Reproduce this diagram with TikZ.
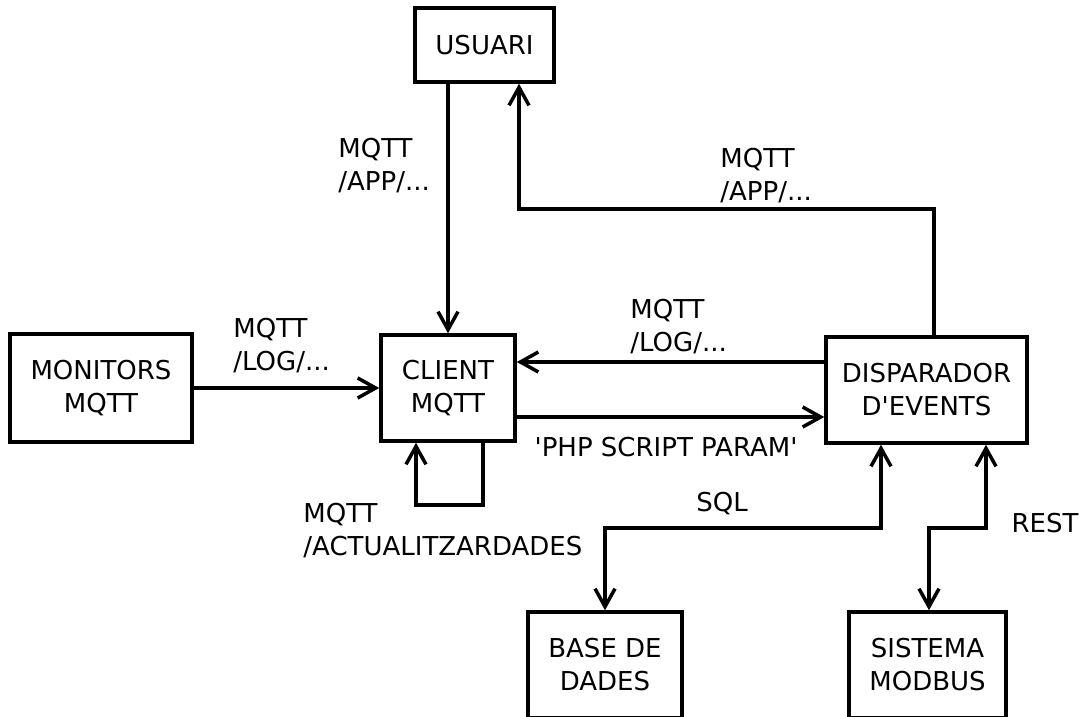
\documentclass[tikz,border=0pt]{standalone}
\usepackage{fontspec}
\setmainfont{DejaVu Sans}
\usetikzlibrary{arrows.meta}

\begin{document}
\begin{tikzpicture}[x=0.5pt,y=-0.5pt]
			\tikzstyle{box}=[draw, line width=1.75pt, inner sep=0pt, align=center]
			\tikzstyle{tag}=[inner sep=0pt, align=left, anchor=north west]
			\tikzset{edge/.style = {->, line width=1.75pt, > = {Straight Barb[length=9pt,width=10pt]}}}
			\tikzset{every node/.style={font=\fontsize{13}{16.5}\selectfont}}
			
			\useasboundingbox (0,0) rectangle (1082,717);
			
			\node[box, minimum width=69.5pt, minimum height=37pt](usuari) at (484.5,45) {USUARI};
			\node[box, minimum width=91pt, minimum height=54pt](monitors) at (101,388) {MONITORS\\MQTT};
			\node[box, minimum width=67pt, minimum height=53pt](client) at (448,388) {CLIENT\\MQTT};
			\node[box, minimum width=100.5pt, minimum height=53pt](disp) at (926.5,390) {DISPARADOR\\D\textquotesingle EVENTS};
			\node[box, minimum width=77pt, minimum height=53pt](base) at (605,665) {BASE DE\\DADES};
			\node[box, minimum width=78.5pt, minimum height=53pt](sistema) at (927.5,665) {SISTEMA\\MODBUS};
			
			\node[tag](appl) at (338,138) {MQTT\\/APP/...};
			\node[tag](appr) at (720,148) {MQTT\\/APP/...};
			\node[tag](logr) at (630,299) {MQTT\\/LOG/...};
			\node[tag](logl) at (233,318) {MQTT\\/LOG/...};
			\node[tag](upd) at (303,503) {MQTT\\/ACTUALITZARDADES};
			\node[inner sep=0pt](php) at (666,447) {\textquotesingle PHP SCRIPT PARAM\textquotesingle};
			\node[inner sep=0pt](sql) at (722,504) {SQL};
			\node[inner sep=0pt](rest) at (1045,523) {REST};
			
			\draw[edge] (usuari.south -| client.north) -- (client.north);
			\draw[edge] (disp.north -| 934,0) |- (519,209) -- (usuari.south -| 519,0);
			\draw[edge] (monitors.east) -- (client.west);
			\draw[edge] (disp.west |- 0,362) -- (client.east |- 0,362);
			\draw[edge] (client.east |- 0,417) -- (disp.west |- 0,417);
			\draw[edge] (client.south -| 483,0) |- (416,505) -- (client.south -| 416,0);
			\draw[edge,<->] (disp.south -| 881,0) |- (605,528) -- (base.north);
			\draw[edge,<->] (disp.south -| 986,0) |- (929,528) -- (sistema.north -| 929,0);
\end{tikzpicture}
\end{document}
